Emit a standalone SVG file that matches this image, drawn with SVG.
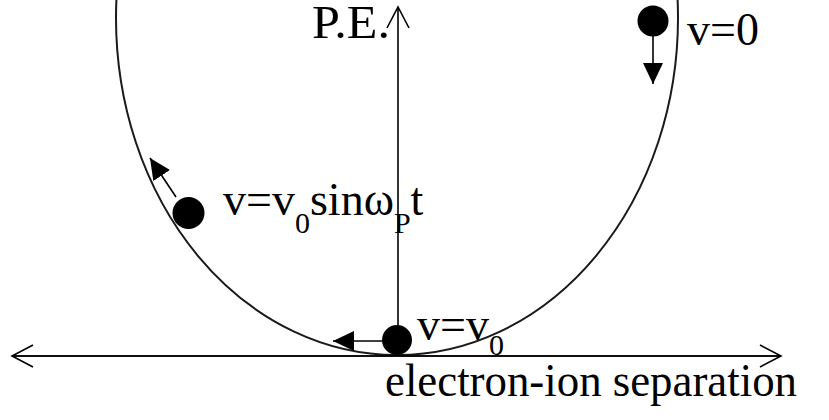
<svg xmlns="http://www.w3.org/2000/svg" width="829" height="420" viewBox="0 0 829 420">
<style>
  .ln { stroke:#000; stroke-width:1.6; fill:none; }
  .cv { stroke:#1a1a1a; stroke-width:2; fill:none; }
  .ball { fill:#000; }
  .t { font-family:"Liberation Serif","Times New Roman",serif; font-size:46px; fill:#000; }
  .s { font-size:30px; }
</style>
<defs>
  <marker id="open" viewBox="0 0 24 24" refX="22" refY="12" markerWidth="24" markerHeight="24" markerUnits="userSpaceOnUse" orient="auto">
    <path d="M1,1 L22,12 L1,23" fill="none" stroke="#000" stroke-width="1.6"/>
  </marker>
  <marker id="solid" viewBox="0 0 21 20" refX="21" refY="10" markerWidth="21" markerHeight="20" markerUnits="userSpaceOnUse" orient="auto">
    <path d="M0,0 L21,10 L0,20 Z" fill="#000"/>
  </marker>
</defs>
<rect width="829" height="420" fill="#fff"/>
<g id="curve">
  <ellipse class="cv" cx="397" cy="18" rx="281" ry="337"/>
</g>
<g id="connectors">
  <line class="ln" x1="12" y1="356" x2="781" y2="356" marker-end="url(#open)"/>
  <line class="ln" x1="781" y1="356" x2="12" y2="356" marker-end="url(#open)"/>
  <line class="ln" x1="398" y1="326" x2="398" y2="7" marker-end="url(#open)"/>
  <line class="ln" x1="653" y1="36" x2="653" y2="84" marker-end="url(#solid)"/>
  <line class="ln" x1="176" y1="197" x2="150" y2="158" marker-end="url(#solid)"/>
  <line class="ln" x1="383" y1="341" x2="333" y2="341" marker-end="url(#solid)"/>
</g>
<g id="axis-labels">
  <text class="t" x="312" y="38" textLength="78" lengthAdjust="spacingAndGlyphs">P.E.</text>
  <text class="t" x="385" y="396" textLength="412" lengthAdjust="spacingAndGlyphs">electron-ion separation</text>
</g>
<g id="ball-top">
  <circle class="ball" cx="653" cy="21" r="15.5"/>
  <text class="t" x="687" y="45">v=0</text>
</g>
<g id="ball-left">
  <circle class="ball" cx="188.5" cy="213" r="16"/>
  <text class="t" x="223" y="215">v=v<tspan class="s" dy="18">0</tspan><tspan dy="-18">sin</tspan>ω<tspan class="s" dy="18">P</tspan><tspan dy="-18">t</tspan></text>
</g>
<g id="ball-bottom">
  <circle class="ball" cx="397" cy="340" r="15"/>
  <text class="t" x="417" y="340">v=v<tspan class="s" dy="15">0</tspan></text>
</g>
</svg>
